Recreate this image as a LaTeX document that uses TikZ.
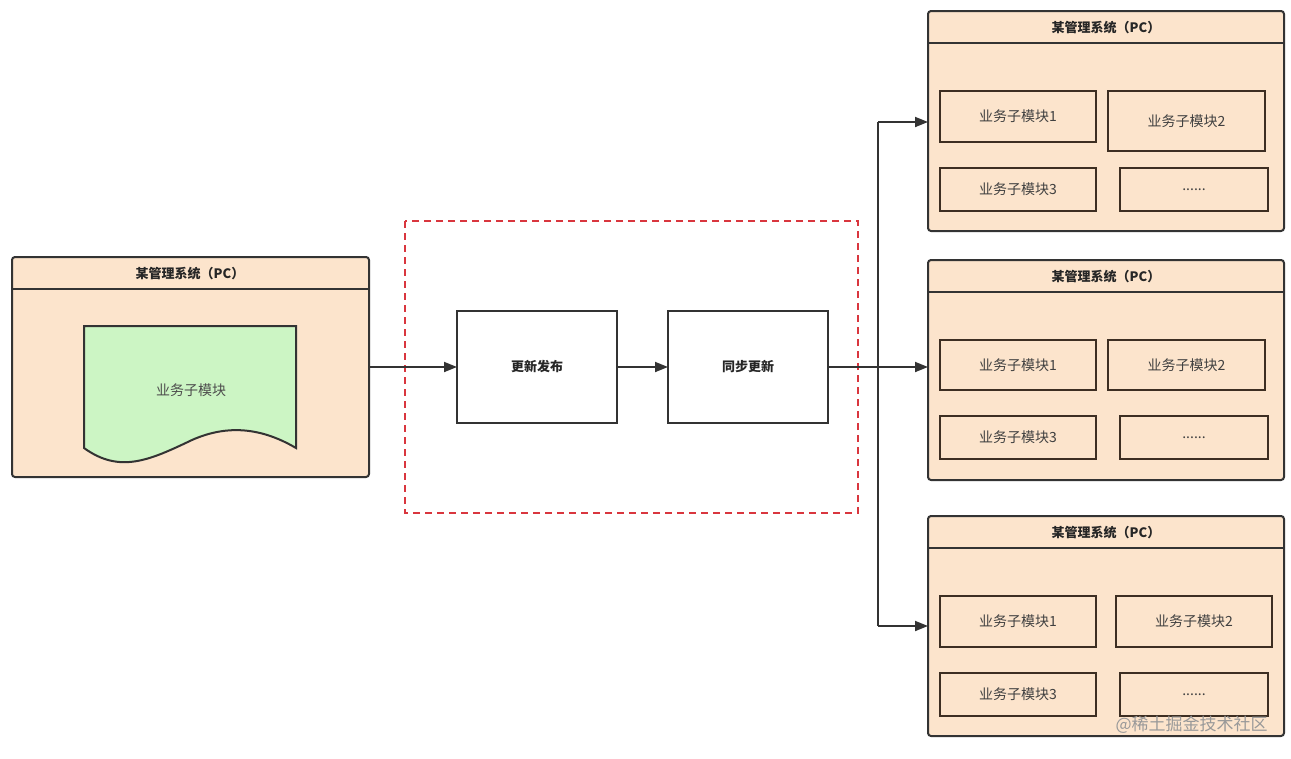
\documentclass[tikz,border=0pt]{standalone}
\usepackage{fontspec}
\setmainfont{Noto Sans CJK SC}
\usetikzlibrary{arrows.meta}
\definecolor{peach}{HTML}{FCE4CC}
\definecolor{mint}{HTML}{CCF5C4}
\definecolor{edge}{HTML}{333333}
\definecolor{modedge}{HTML}{3D2E22}
\definecolor{dashred}{HTML}{D9363E}
\tikzset{
  every node/.style={outer sep=0pt},
  container/.style={draw=edge, fill=peach, line width=2pt, rounded corners=3pt, inner sep=0pt, anchor=north west},
  modbox/.style={draw=modedge, fill=peach, line width=2pt, inner sep=0pt, anchor=north west, font=\fontsize{14}{14}\selectfont, text=black!75},
  stepbox/.style={draw=edge, fill=white, line width=1.8pt, inner sep=0pt, anchor=north west, minimum width=160pt, minimum height=112pt, font=\bfseries\fontsize{13}{13}\selectfont, text=black!85},
  title/.style={font=\bfseries\fontsize{13}{13}\selectfont, text=black!85},
  conn/.style={draw=edge, line width=1.8pt},
  arr/.style={conn, -{Triangle[length=13pt,width=10pt]}},
}
\newcommand{\sysbox}[3]{% name, x, y top
  \node[container, minimum width=356pt, minimum height=220pt] (#1) at (#2,#3) {};
  \draw[edge, line width=1.8pt] (#2,#3+32) -- (#2+356,#3+32);
  \node[title] (#1t) at (#2+178,#3+17) {某管理系统（PC）};
}
\begin{document}
\begin{tikzpicture}[x=1pt,y=-1pt]
\useasboundingbox (0,0) rectangle (1291,758);
% left container
\node[container, minimum width=357pt, minimum height=220pt] (left) at (12,257) {};
\draw[edge, line width=1.8pt] (12,289) -- (369,289);
\node[title] (leftt) at (190,274) {某管理系统（PC）};
% document shape
\draw[draw=edge, fill=mint, line width=2pt] (84,326) -- (296,326) -- (296,448)
  .. controls (262,428) and (228,424) .. (192,440)
  .. controls (150,460) and (120,474) .. (84,448) -- cycle;
\node[font=\fontsize{14}{14}\selectfont, text=black!70] (doc) at (191,390) {业务子模块};
% dashed frame
\draw[dashred, line width=1.6pt, dash pattern=on 7pt off 5pt] (405,221) rectangle (858,513);
% steps
\node[stepbox] (pub) at (457,311) {更新发布};
\node[stepbox] (sync) at (668,311) {同步更新};
% right containers
\sysbox{r1}{928}{11}
\sysbox{r2}{928}{260}
\sysbox{r3}{928}{516}
% modules r1
\node[modbox, minimum width=156pt, minimum height=51pt] (r1a) at (940,91) {业务子模块1};
\node[modbox, minimum width=157pt, minimum height=60pt] (r1b) at (1108,91) {业务子模块2};
\node[modbox, minimum width=156pt, minimum height=43pt] (r1c) at (940,168) {业务子模块3};
\node[modbox, minimum width=148pt, minimum height=43pt] (r1d) at (1120,168) {......};
% modules r2
\node[modbox, minimum width=156pt, minimum height=50pt] (r2a) at (940,340) {业务子模块1};
\node[modbox, minimum width=157pt, minimum height=50pt] (r2b) at (1108,340) {业务子模块2};
\node[modbox, minimum width=156pt, minimum height=43pt] (r2c) at (940,416) {业务子模块3};
\node[modbox, minimum width=148pt, minimum height=43pt] (r2d) at (1120,416) {......};
% modules r3
\node[modbox, minimum width=156pt, minimum height=51pt] (r3a) at (940,596) {业务子模块1};
\node[modbox, minimum width=156pt, minimum height=51pt] (r3b) at (1116,596) {业务子模块2};
\node[modbox, minimum width=156pt, minimum height=43pt] (r3c) at (940,673) {业务子模块3};
\node[modbox, minimum width=148pt, minimum height=43pt] (r3d) at (1120,673) {......};
% connectors
\coordinate (fork) at ([xshift=50pt]sync.east);
\coordinate (forktop) at (fork |- 0,122);
\coordinate (forkbot) at (fork |- 0,626);
\draw[arr] (left.east |- pub.west) -- (pub.west);
\draw[arr] (pub.east) -- (sync.west);
\draw[conn] (sync.east) -- (fork);
\draw[conn] (forktop) -- (forkbot);
\draw[arr] (forktop) -- (r1.west |- forktop);
\draw[arr] (fork) -- (r2.west |- fork);
\draw[arr] (forkbot) -- (r3.west |- forkbot);
% watermark
\node[font=\fontsize{17}{17}\selectfont, text=black!40, anchor=east] (wm) at (1271,725) {@稀土掘金技术社区};
\end{tikzpicture}
\end{document}
